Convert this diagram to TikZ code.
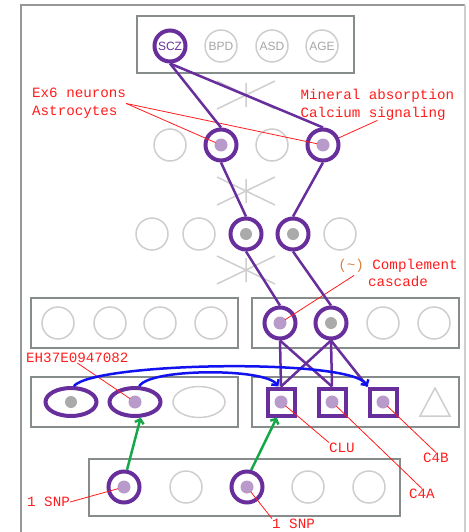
\documentclass[tikz,border=0pt]{standalone}
\usepackage{fontspec}
\setsansfont{Liberation Sans}
\setmonofont{Liberation Mono}
\usepackage{tikz}
\usetikzlibrary{arrows.meta,shapes.geometric}

\definecolor{hitpurple}{RGB}{104,46,156}
\definecolor{dotlilac}{RGB}{184,155,202}
\definecolor{dotgrey}{RGB}{170,170,170}
\definecolor{slotgray}{RGB}{206,206,206}
\definecolor{traitgray}{RGB}{165,165,165}
\definecolor{panelgray}{RGB}{134,139,139}
\definecolor{framegray}{RGB}{150,152,152}
\definecolor{notered}{RGB}{255,28,28}
\definecolor{tildeorange}{RGB}{217,128,62}
\definecolor{enhblue}{RGB}{18,18,240}
\definecolor{snpgreen}{RGB}{22,168,72}

\tikzset{
    slot/.style={circle, draw=slotgray, line width=1.5pt, minimum size=32pt, inner sep=0pt},
    hit/.style={slot, draw=hitpurple, line width=4pt, minimum size=31pt},
    trait/.style={slot, font=\sffamily\fontsize{12}{12}\selectfont, text=traitgray},
    lilacdot/.style={path picture={\fill[dotlilac] (path picture bounding box.center) circle (6.5pt);}},
    greydot/.style={path picture={\fill[dotgrey] (path picture bounding box.center) circle (6pt);}},
    oval/.style={ellipse, draw=slotgray, line width=1.5pt, minimum width=52pt, minimum height=31pt, inner sep=0pt},
    hitoval/.style={oval, draw=hitpurple, line width=4pt, minimum width=51pt, minimum height=28pt},
    hitbox/.style={rectangle, draw=hitpurple, line width=4pt, minimum size=27pt, inner sep=0pt},
    panel/.style={draw=panelgray, line width=2pt},
    cross/.style={draw=slotgray, line width=1.5pt},
    wire/.style={draw=hitpurple, line width=2.5pt},
    enhlink/.style={draw=enhblue, line width=2.5pt, -{Straight Barb[length=4pt,width=9pt]}},
    snplink/.style={draw=snpgreen, line width=2.5pt, -{Straight Barb[length=4pt,width=9pt]}},
    note/.style={text=notered, font=\ttfamily\fontsize{14.2}{17.5}\selectfont, inner sep=0pt},
    leader/.style={draw=notered, line width=0.8pt, shorten >=6pt}
}

\begin{document}
\begin{tikzpicture}[x=1pt,y=-1pt]
    \useasboundingbox (0,0) rectangle (468,532);

    % frame, panels and the gray crossings
    \draw [framegray, line width=2.5pt] (21,540) -- (21,5) -- (465,5);
    \draw [slotgray, line width=1.5pt] (465,5) -- (465,540);
    \draw [panel] (137,16) rectangle (354,73);
    \draw [panel] (31,298) rectangle (238,348);
    \draw [panel] (252,298) rectangle (459,348);
    \draw [panel] (31,377) rectangle (238,427);
    \draw [panel] (252,377) rectangle (459,427);
    \draw [panel] (89,459) rectangle (400,516);
    \foreach \y in {95,191,270}
        \draw [cross] (217,\y-14) -- (275,\y+14) (217,\y+14) -- (275,\y-14) (246,\y-12) -- (246,\y+12);

    % traits
    \node [trait, hit, text=hitpurple] (t1) at (170,46) {SCZ};
    \node [trait] (t2) at (221,46) {BPD};
    \node [trait] (t3) at (272,46) {ASD};
    \node [trait] (t4) at (322,46) {AGE};

    % cell types / pathways
    \node [slot] (a1) at (170,145) {};
    \node [hit, lilacdot] (a2) at (221,145) {};
    \node [slot] (a3) at (272,145) {};
    \node [hit, lilacdot] (a4) at (323,145) {};

    % hidden layer
    \node [slot] (h1) at (152,234) {};
    \node [slot] (h2) at (199,234) {};
    \node [hit, greydot] (h3) at (246,234) {};
    \node [hit, greydot] (h4) at (293,234) {};
    \node [slot] (h5) at (340,234) {};

    % gene modules
    \node [slot] (g1) at (58,323) {};
    \node [slot] (g2) at (110,323) {};
    \node [slot] (g3) at (160,323) {};
    \node [slot] (g4) at (211,323) {};
    \node [hit, lilacdot] (g5) at (280,323) {};
    \node [hit, greydot] (g6) at (331,323) {};
    \node [slot] (g7) at (383,323) {};
    \node [slot] (g8) at (434,323) {};

    % enhancers and genes
    \node [hitoval, greydot] (e1) at (71,402) {};
    \node [hitoval, lilacdot] (e2) at (135,402) {};
    \node [oval] (e3) at (199,402) {};
    \node [hitbox, lilacdot] (p1) at (281,402) {};
    \node [hitbox, lilacdot] (p2) at (332,402) {};
    \node [hitbox, lilacdot] (p3) at (383,402) {};
    \draw [slotgray, line width=1.5pt] (435,388) -- (450,416) -- (420,416) -- cycle;

    % snps
    \node [hit, lilacdot] (s1) at (124,487) {};
    \node [slot] (s2) at (186,487) {};
    \node [hit, lilacdot] (s3) at (247,487) {};
    \node [slot] (s4) at (308,487) {};
    \node [slot] (s5) at (369,487) {};

    % labels
    \node [note, anchor=north west, align=left] (cells) at (32,88.3) {Ex6 neurons\\Astrocytes};
    \node [note, anchor=north west, align=left] (paths) at (300.5,89.3) {Mineral absorption\\Calcium signaling};
    \node [note, anchor=north, align=center] (cmpl) at (398,259) {\textcolor{tildeorange}{(\textasciitilde)} Complement\\cascade};
    \node [note, anchor=base west] (ehid) at (26,362.7) {EH37E0947082};
    \node [note, anchor=base west] (clu) at (329,452.3) {CLU};
    \node [note, anchor=base west] (c4b) at (423,462.3) {C4B};
    \node [note, anchor=base west] (c4a) at (409,498.3) {C4A};
    \node [note, anchor=base west] (snpa) at (27,506.7) {1 SNP};
    \node [note, anchor=base west] (snpb) at (272,528.3) {1 SNP};

    \draw [leader] (cells.east) -- (a2.center);
    \draw [leader] (cells.east) -- (a4.center);
    \draw [leader, shorten >=0pt] (paths.south) -- (a4);
    \draw [leader] ([xshift=16pt,yshift=12pt]cmpl.south west) -- (g5.center);
    \draw [leader] (ehid.south) -- (e2.center);
    \draw [leader] (clu.north west) -- (p1.center);
    \draw [leader] (c4a.north) -- (p2.center);
    \draw [leader] (c4b.north) -- (p3.center);
    \draw [leader] (snpa.east) -- (s1.center);
    \draw [leader] (snpb.north west) -- (s3.center);

    \draw [wire] (t1.south) -- (a2.north);
    \draw [wire] (t1.south) -- (a4.north);
    \draw [wire] (a2.south) -- (h3.north);
    \draw [wire] (a4.south) -- (h4.north);
    \draw [wire] (h3.south) -- (g5.north);
    \draw [wire] (h4.south) -- (g6.north);
    \draw [wire] (g5.south) -- (p1.north);
    \draw [wire] (g5.south) -- (p2.north);
    \draw [wire] (g6.south) -- (p1.north);
    \draw [wire] (g6.south) -- (p2.north);
    \draw [wire] (g6.south) -- (p3.north west);

    \draw [enhlink] (e1.80) .. controls (95,362) and (350,358) .. (p3.north west);
    \draw [enhlink] (e2.75) .. controls (150,368) and (265,368) .. (p1.100);
    \draw [snplink] (s1.80) -- (e2.-70);
    \draw [snplink] (s3.76) -- (p1.-105);
\end{tikzpicture}
\end{document}
